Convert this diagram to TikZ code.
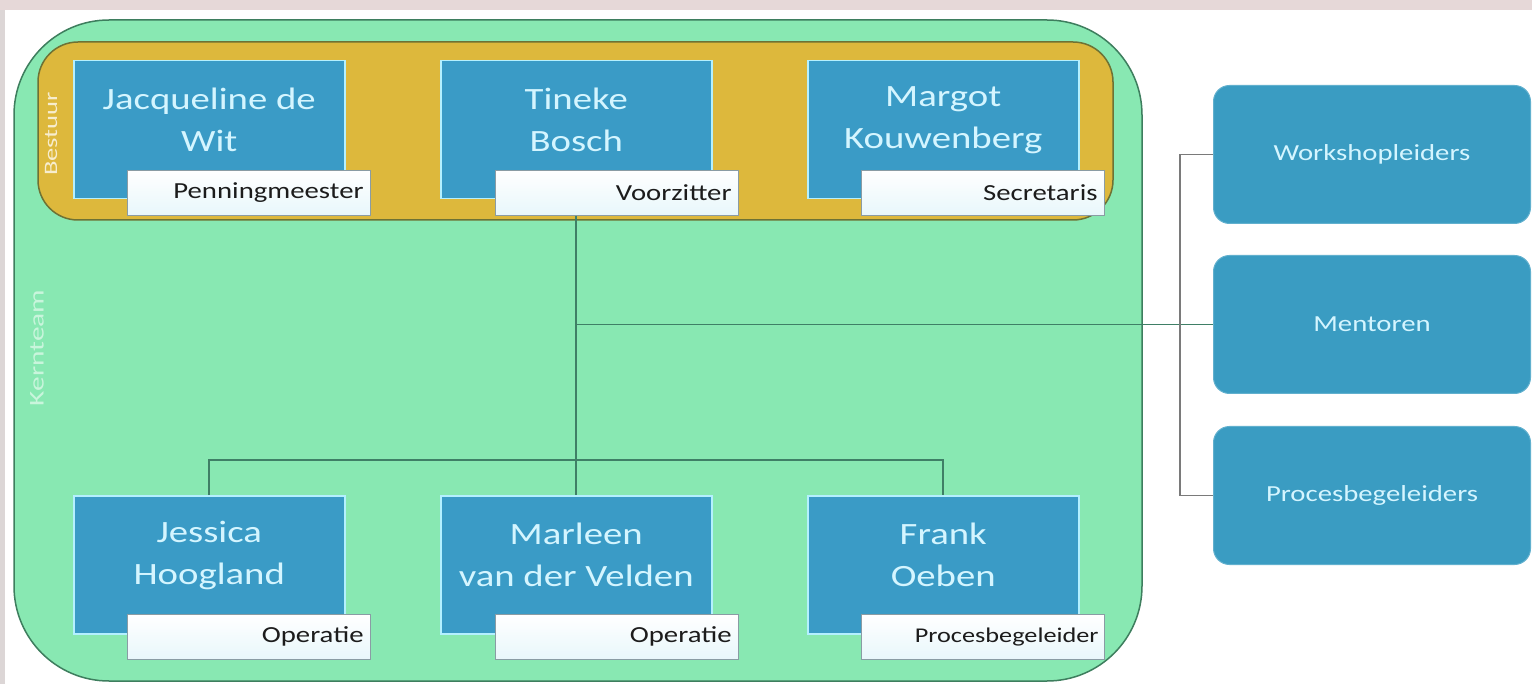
\documentclass[tikz,border=0pt]{standalone}
\usepackage{fontspec}
\usepackage{graphicx}
\setmainfont{Carlito}
\usetikzlibrary{calc}
\definecolor{kgreen}{HTML}{88E8B2}
\definecolor{kborder}{HTML}{3E7E5E}
\definecolor{bgold}{HTML}{DDB83C}
\definecolor{bborder}{HTML}{6E7234}
\definecolor{pblue}{HTML}{3A9BC6}
\definecolor{pborder}{HTML}{B4F0FF}
\definecolor{rblue}{HTML}{3A9CC2}
\definecolor{nametxt}{HTML}{D4F5FF}
\definecolor{rolebot}{HTML}{E8F7FB}
\definecolor{roleborder}{HTML}{8A9CA4}
\definecolor{roletxt}{HTML}{1C1C1C}
\definecolor{linegreen}{HTML}{3F7F66}
\definecolor{linegrey}{HTML}{7A7A7A}
\definecolor{topstrip}{HTML}{E6D8D8}
\definecolor{sidestrip}{HTML}{DCD6D6}
\tikzset{
  kernbox/.style={draw=kborder, line width=1.5pt, fill=kgreen, rounded corners=95pt},
  bestbox/.style={draw=bborder, line width=1.5pt, fill=bgold, rounded corners=40pt},
  person/.style={draw=pborder, line width=1.5pt, fill=pblue, minimum width=271pt, minimum height=138pt, inner sep=0pt, anchor=north west},
  rolebox/.style={draw=roleborder, line width=0.8pt, top color=white, bottom color=rolebot, minimum width=243pt, minimum height=45pt, inner sep=0pt, anchor=north west},
  nametext/.style={text=nametxt, font=\fontsize{31}{42}\selectfont, align=center, xscale=1.25, transform shape, inner sep=0pt},
  roletext/.style={text=roletxt, font=\fontsize{23}{28}\selectfont, anchor=east, xscale=1.25, transform shape, inner sep=0pt},
  groupbox/.style={fill=rblue, draw=rblue!80!white, line width=1pt, rounded corners=16pt, minimum width=317pt, minimum height=138pt, inner sep=0pt, anchor=north west},
  grouptext/.style={text=nametxt, font=\fontsize{23}{28}\selectfont, xscale=1.25, transform shape, inner sep=0pt},
  conn/.style={draw=linegreen, line width=1.6pt},
  connout/.style={draw=linegrey, line width=1.4pt},
}
\begin{document}
\begin{tikzpicture}[x=1pt, y=-1pt]
\useasboundingbox (0,0) rectangle (1532,684);
\fill[white] (0,0) rectangle (1532,684);
\fill[topstrip] (0,0) rectangle (1532,10);
\fill[sidestrip] (0,10) rectangle (5,684);

% Kernteam and Bestuur areas
\draw[kernbox] (14,20) rectangle (1142,681);
\draw[bestbox] (38,42) rectangle (1113,220);
\node[text=bgold!25!white, font=\fontsize{19}{22}\selectfont, inner sep=0pt, rotate=90] (bestuurlbl) at (51,134) {\scalebox{1.4}[1]{Bestuur}};
\node[text=kgreen!45!white, font=\fontsize{21}{24}\selectfont, inner sep=0pt, rotate=90] (kernlbl) at (37,348) {\scalebox{1.4}[1]{Kernteam}};

% top row
\node[person] (jw) at (73,60) {};
\node[person] (tb) at (440,60) {};
\node[person] (mk) at (807,60) {};
\node[nametext] (jwname) at ([yshift=-60pt]jw.north) {Jacqueline de\\Wit};
\node[nametext] (tbname) at ([yshift=-60pt]tb.north) {Tineke\\Bosch};
\node[nametext] (mkname) at ([yshift=-60pt]mk.north) {Margot\\Kouwenberg};
\node[rolebox] (jwr) at (127,170) {};
\node[rolebox] (tbr) at (495,170) {};
\node[rolebox] (mkr) at (861,170) {};
\node[roletext] (jwrt) at ([xshift=-7pt]jwr.east) {Penningmeester};
\node[roletext] (tbrt) at ([xshift=-7pt]tbr.east) {Voorzitter};
\node[roletext] (mkrt) at ([xshift=-7pt]mkr.east) {Secretaris};

% bottom row
\node[person] (jh) at (73,495) {};
\node[person] (mv) at (440,495) {};
\node[person] (fo) at (807,495) {};
\node[nametext] (jhname) at ([yshift=-60pt]jh.north) {Jessica\\Hoogland};
\node[nametext] (mvname) at ([yshift=-60pt]mv.north) {Marleen\\van der Velden};
\node[nametext] (foname) at ([yshift=-60pt]fo.north) {Frank\\Oeben};
\node[rolebox] (jhr) at (127,614) {};
\node[rolebox] (mvr) at (495,614) {};
\node[rolebox] (for) at (861,614) {};
\node[roletext] (jhrt) at ([xshift=-7pt]jhr.east) {Operatie};
\node[roletext] (mvrt) at ([xshift=-7pt]mvr.east) {Operatie};
\node[roletext, font=\fontsize{21}{26}\selectfont] (fort) at ([xshift=-6pt]for.east) {Procesbegeleider};

% right groups
\node[groupbox] (wl) at (1213,85) {};
\node[groupbox] (men) at (1213,255) {};
\node[groupbox] (pb) at (1213,426) {};
\node[grouptext] (wlt) at (wl.center) {Workshopleiders};
\node[grouptext] (ment) at (men.center) {Mentoren};
\node[grouptext] (pbt) at (pb.center) {Procesbegeleiders};

% connectors
\coordinate (top) at (tb.center |- tbr.south);
\coordinate (hub) at (tb.center |- men.west);
\draw[conn] (top) -- (mv.north);
\draw[conn] (jh.north) -- ++(0,-35) -| (fo.north);
\draw[conn] (hub) -- (men.west);
\draw[connout] (wl.west) -- ++(-33,0) |- (pb.west);
\end{tikzpicture}
\end{document}
